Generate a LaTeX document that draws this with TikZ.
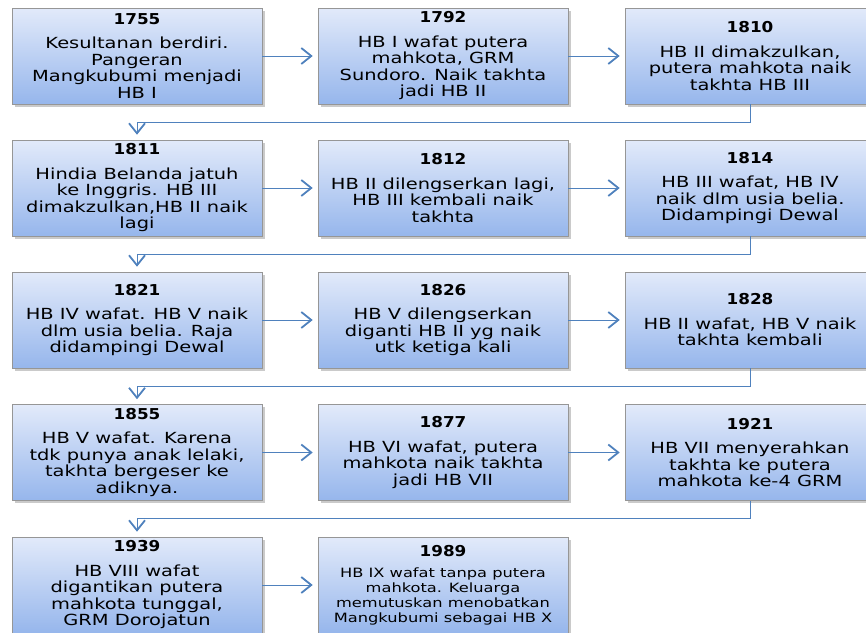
\documentclass[tikz,border=0pt]{standalone}
\usepackage{fontspec}
\setmainfont{DejaVu Sans}[FakeStretch=1.27]
\newfontfamily\yearfont{DejaVu Sans}[FakeStretch=1.12]
\usetikzlibrary{arrows.meta,shadows}
\definecolor{boxtop}{RGB}{226,234,250}
\definecolor{boxbot}{RGB}{150,182,236}
\definecolor{conn}{RGB}{79,129,189}
\definecolor{edgegray}{RGB}{150,150,150}
\newcommand\yr[1]{{\yearfont\bfseries\fontsize{15}{15}\selectfont #1}}
\tikzset{
  evbox/.style={draw=edgegray, line width=0.6pt, top color=boxtop, bottom color=boxbot,
    minimum width=250pt, minimum height=96pt, inner sep=0pt, align=center,
    font=\fontsize{15.3}{16.5}\selectfont,
    drop shadow={shadow xshift=2.5pt, shadow yshift=-2.5pt, opacity=0.35, fill=black!60}},
  link/.style={draw=conn, line width=1pt, -{Straight Barb[length=10pt,width=16pt,line width=1.8pt]}, shorten >=5pt},
}
\begin{document}
\begin{tikzpicture}[x=1pt,y=-1pt]
\useasboundingbox (0,0) rectangle (866,632);
\clip (0,0) rectangle (866,632);
% row 1
\node[evbox] (n1755) at (137,56) {\yr{1755}\\[8pt]Kesultanan berdiri.\\Pangeran\\Mangkubumi menjadi\\HB I};
\node[evbox] (n1792) at (443,56) {\yr{1792}\\[8pt]HB I wafat putera\\mahkota, GRM\\Sundoro. Naik takhta\\jadi HB II};
\node[evbox] (n1810) at (750,56) {\yr{1810}\\[8pt]HB II dimakzulkan,\\putera mahkota naik\\takhta HB III};
% row 2
\node[evbox] (n1811) at (137,188) {\yr{1811}\\[8pt]Hindia Belanda jatuh\\ke Inggris. HB III\\dimakzulkan,HB II naik\\lagi};
\node[evbox] (n1812) at (443,188) {\yr{1812}\\[8pt]HB II dilengserkan lagi,\\HB III kembali naik\\takhta};
\node[evbox] (n1814) at (750,188) {\yr{1814}\\[8pt]HB III wafat, HB IV\\naik dlm usia belia.\\Didampingi Dewal};
% row 3
\node[evbox] (n1821) at (137,320) {\yr{1821}\\[8pt]HB IV wafat. HB V naik\\dlm usia belia. Raja\\didampingi Dewal};
\node[evbox] (n1826) at (443,320) {\yr{1826}\\[8pt]HB V dilengserkan\\diganti HB II yg naik\\utk ketiga kali};
\node[evbox] (n1828) at (750,320) {\yr{1828}\\[8pt]HB II wafat, HB V naik\\takhta kembali};
% row 4
\node[evbox] (n1855) at (137,452.5) {\yr{1855}\\[8pt]HB V wafat. Karena\\tdk punya anak lelaki,\\takhta bergeser ke\\adiknya.};
\node[evbox] (n1877) at (443,452.5) {\yr{1877}\\[8pt]HB VI wafat, putera\\mahkota naik takhta\\jadi HB VII};
\node[evbox] (n1921) at (750,452.5) {\yr{1921}\\[8pt]HB VII menyerahkan\\takhta ke putera\\mahkota ke-4 GRM};
% row 5
\node[evbox] (n1939) at (137,585) {\yr{1939}\\[8pt]HB VIII wafat\\digantikan putera\\mahkota tunggal,\\GRM Dorojatun};
\node[evbox, font=\fontsize{12.8}{15}\selectfont] (n1989) at (443,585) {\yr{1989}\\[6pt]HB IX wafat tanpa putera\\mahkota. Keluarga\\memutuskan menobatkan\\Mangkubumi sebagai HB X};
% connectors
\draw[link] (n1755) -- (n1792);
\draw[link] (n1792) -- (n1810);
\draw[link] (n1810.south) -- ++(0,18) -| (n1811.north);
\draw[link] (n1811) -- (n1812);
\draw[link] (n1812) -- (n1814);
\draw[link] (n1814.south) -- ++(0,18) -| (n1821.north);
\draw[link] (n1821) -- (n1826);
\draw[link] (n1826) -- (n1828);
\draw[link] (n1828.south) -- ++(0,18) -| (n1855.north);
\draw[link] (n1855) -- (n1877);
\draw[link] (n1877) -- (n1921);
\draw[link] (n1921.south) -- ++(0,18) -| (n1939.north);
\draw[link] (n1939) -- (n1989);
\end{tikzpicture}
\end{document}
